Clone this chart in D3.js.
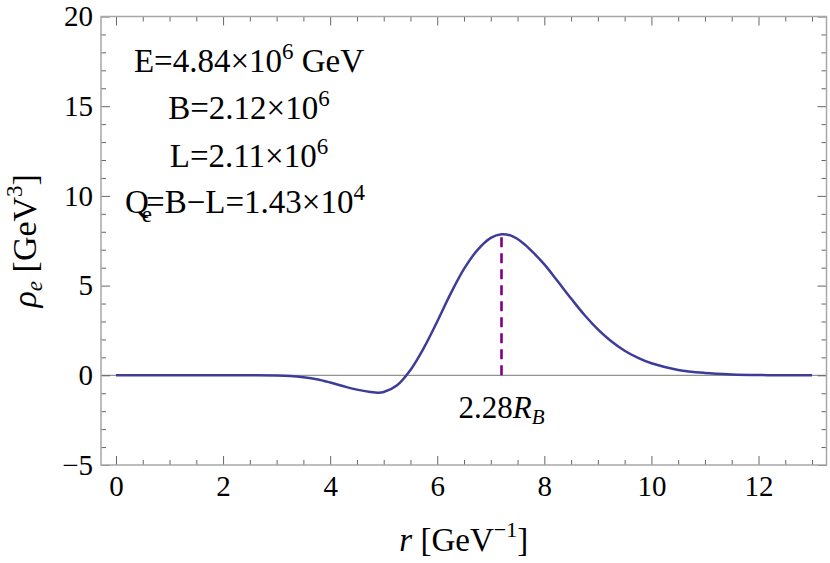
<!DOCTYPE html>
<html><head><meta charset="utf-8">
<script src="https://cdn.jsdelivr.net/npm/d3@7"></script>
<style>
html,body{margin:0;padding:0;background:#fff;}
svg text{font-family:"Liberation Serif","Times New Roman",serif;fill:#000;}
</style></head>
<body><svg id="c" width="830" height="563"></svg>
<script>
// ---- data ----
const rValues = [0,0.5,1,1.5,2,2.5,3,3.25,3.5,3.75,4,4.25,4.5,4.75,4.9,5,5.25,5.5,5.75,6,6.25,6.5,6.75,7,7.2,7.4,7.6,7.8,8,8.25,8.5,8.75,9,9.25,9.5,9.75,10,10.5,11,11.5,12,12.5,13];
const rhoValues = [0,0,0,0,0,0,-0.01,-0.04,-0.11,-0.22,-0.40,-0.61,-0.80,-0.93,-0.97,-0.93,-0.55,0.30,1.53,3.0,4.55,5.93,6.98,7.66,7.86,7.76,7.38,6.82,6.18,5.24,4.28,3.36,2.56,1.9,1.37,0.97,0.67,0.30,0.13,0.05,0.015,0.003,0];
const xMajorTicks = [0,2,4,6,8,10,12];
const yMajorTicks = [-5,0,5,10,15,20];
const peakR = 7.2, peakRho = 7.86;

// ---- layout ----
const svg = d3.select("#c");
const L = 101, R = 826.5, T = 16.5, B = 465;
const x = d3.scaleLinear().domain([-0.28, 13.27]).range([L, R]);
const y = d3.scaleLinear().domain([-5, 20]).range([B, T]);
const xMinor = d3.range(0, 13.01, 0.5).filter(v => v % 2 !== 0);
const yMinor = d3.range(-5, 20.01, 1).filter(v => v % 5 !== 0);
const tickColor = "#666", frameColor = "#a8a8a8";
const FS = 29;

// zero line
svg.append("line").attr("x1", L).attr("x2", R).attr("y1", y(0)).attr("y2", y(0))
  .attr("stroke", "#777").attr("stroke-width", 1);

function styleAxis(g) {
  g.select(".domain").remove();
  g.selectAll(".tick line").attr("stroke", tickColor).attr("stroke-width", 1);
  g.selectAll("text").style("font-size", FS + "px").attr("fill", "#000");
}
// bottom
svg.append("g").attr("transform", `translate(0,${B})`)
  .call(d3.axisBottom(x).tickValues(xMajorTicks).tickSize(-9).tickPadding(10.5).tickFormat(d3.format("d"))).call(styleAxis);
svg.append("g").attr("transform", `translate(0,${B})`)
  .call(d3.axisBottom(x).tickValues(xMinor).tickSize(-5).tickFormat("")).call(styleAxis);
// top
svg.append("g").attr("transform", `translate(0,${T})`)
  .call(d3.axisTop(x).tickValues(xMajorTicks).tickSize(-9).tickFormat("")).call(styleAxis);
svg.append("g").attr("transform", `translate(0,${T})`)
  .call(d3.axisTop(x).tickValues(xMinor).tickSize(-5).tickFormat("")).call(styleAxis);
// left
svg.append("g").attr("transform", `translate(${L},0)`)
  .call(d3.axisLeft(y).tickValues(yMajorTicks).tickSize(-9).tickPadding(8).tickFormat(d => d < 0 ? "\u2212" + Math.abs(d) : d)).call(styleAxis);
svg.append("g").attr("transform", `translate(${L},0)`)
  .call(d3.axisLeft(y).tickValues(yMinor).tickSize(-5).tickFormat("")).call(styleAxis);
// right
svg.append("g").attr("transform", `translate(${R},0)`)
  .call(d3.axisRight(y).tickValues(yMajorTicks).tickSize(-9).tickFormat("")).call(styleAxis);
svg.append("g").attr("transform", `translate(${R},0)`)
  .call(d3.axisRight(y).tickValues(yMinor).tickSize(-5).tickFormat("")).call(styleAxis);

// frame
svg.append("rect").attr("x", L).attr("y", T).attr("width", R - L).attr("height", B - T)
  .attr("fill", "none").attr("stroke", frameColor).attr("stroke-width", 1.5);

// curve
const pts = rValues.map((r, i) => [r, rhoValues[i]]);
svg.append("path").datum(pts)
  .attr("d", d3.line().x(d => x(d[0])).y(d => y(d[1])).curve(d3.curveCatmullRom.alpha(0.5)))
  .attr("fill", "none").attr("stroke", "#3d3d99").attr("stroke-width", 2.5);

// dashed peak line
svg.append("line").attr("x1", x(peakR)).attr("x2", x(peakR)).attr("y1", y(0)).attr("y2", y(peakRho))
  .attr("stroke", "#800080").attr("stroke-width", 2.6).attr("stroke-dasharray", "10,6");

// peak label
const pl = svg.append("text").attr("x", x(peakR)).attr("y", 418).attr("text-anchor", "middle").style("font-size", "31px");
pl.append("tspan").text("2.28");
pl.append("tspan").style("font-style", "italic").text("R");
pl.append("tspan").style("font-style", "italic").style("font-size", "21px").attr("dy", 6).text("B");

// annotation block
const cx = 249, AF = "33px", SF = "23px";
const t1 = svg.append("text").attr("x", cx).attr("y", 72).attr("text-anchor", "middle").style("font-size", AF);
t1.append("tspan").text("E=4.84\u00d710");
t1.append("tspan").style("font-size", SF).attr("dy", -13).text("6");
t1.append("tspan").attr("dy", 13).text(" GeV");
const t2 = svg.append("text").attr("x", cx).attr("y", 119).attr("text-anchor", "middle").style("font-size", AF);
t2.append("tspan").text("B=2.12\u00d710");
t2.append("tspan").style("font-size", SF).attr("dy", -13).text("6");
const t3 = svg.append("text").attr("x", cx).attr("y", 166.5).attr("text-anchor", "middle").style("font-size", AF);
t3.append("tspan").text("L=2.11\u00d710");
t3.append("tspan").style("font-size", SF).attr("dy", -13).text("6");
const t4 = svg.append("text").attr("x", 125).attr("y", 213).style("font-size", AF);
t4.append("tspan").text("Q");
t4.append("tspan").style("font-size", SF).attr("dx", -7).attr("dy", 9).text("e");
t4.append("tspan").attr("dx", -6).attr("dy", -9).text("=B\u2212L=1.43\u00d710");
t4.append("tspan").style("font-size", SF).attr("dy", -13).text("4");

// x title
const xt = svg.append("text").attr("x", (L + R) / 2).attr("y", 551).attr("text-anchor", "middle").style("font-size", "33px");
xt.append("tspan").style("font-style", "italic").text("r");
xt.append("tspan").text(" [GeV");
xt.append("tspan").style("font-size", "22px").attr("dy", -14).text("\u22121");
xt.append("tspan").attr("dy", 14).text("]");

// y title
const yt = svg.append("text").attr("transform", `translate(36,${(T + B) / 2}) rotate(-90)`).attr("text-anchor", "middle").style("font-size", "34px");
yt.append("tspan").style("font-style", "italic").text("\u03c1");
yt.append("tspan").style("font-style", "italic").style("font-size", "23px").attr("dy", 6).text("e");
yt.append("tspan").attr("dy", -6).text(" [GeV");
yt.append("tspan").style("font-size", "23px").attr("dy", -14).text("3");
yt.append("tspan").attr("dy", 14).text("]");
</script></body></html>
